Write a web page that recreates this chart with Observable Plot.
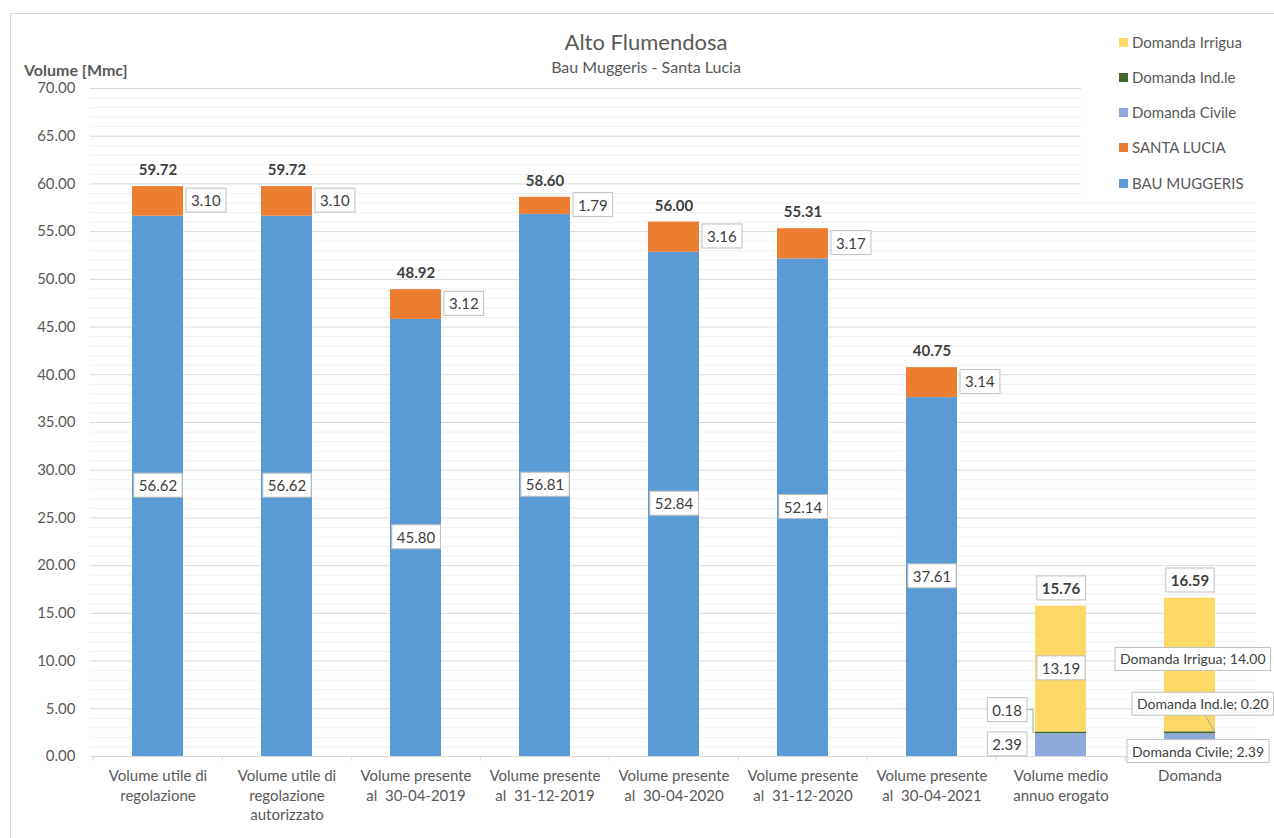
<!DOCTYPE html>
<html>
<head>
<meta charset="utf-8">
<script src="https://cdn.jsdelivr.net/npm/d3@7"></script>
<script src="https://cdn.jsdelivr.net/npm/@observablehq/plot@0.6"></script>
<style>
  body { margin: 0; background: #fff; font-family: Lato, sans-serif; }
  #wrap { position: relative; width: 1274px; height: 838px; overflow: hidden; background: #fff; }
  #wrap svg { position: absolute; left: 0; top: 0; }
  #wrap svg text { white-space: pre; }
  #frame { position: absolute; left: 10px; top: 13px; width: 1300px; height: 900px; border: 1px solid #d9d9d9; box-sizing: border-box; pointer-events: none; }
  .title { position: absolute; left: 0; width: 1292px; text-align: center; color: #595959; white-space: nowrap; }
  #ytitle { position: absolute; left: 24px; top: 62px; font-size: 16px; line-height: 16px; font-weight: bold; color: #595959; white-space: nowrap; }
  #legend { position: absolute; left: 1081px; top: 14px; width: 200px; height: 184px; background: #fff; }
  .li { position: absolute; left: 38px; font-size: 15px; line-height: 18px; color: #595959; white-space: nowrap; }
  .li span { display: inline-block; width: 9px; height: 9px; margin-right: 4px; vertical-align: 1px; }
</style>
</head>
<body>
<div id="wrap">
  <div id="plot"></div>
  <div class="title" style="top:30px;font-size:22px;line-height:24px;">Alto Flumendosa</div>
  <div class="title" style="top:58px;font-size:16px;line-height:18px;">Bau Muggeris - Santa Lucia</div>
  <div id="ytitle">Volume [Mmc]</div>
  <div id="legend"></div>
  <div id="frame"></div>
</div>
<script>
// ---- data ----
const categories = ["VUR", "VURA", "P2019A", "P2019D", "P2020A", "P2020D", "P2021A", "VMAE", "DOM"];
const categoryLabels = [
  "Volume utile di\nregolazione",
  "Volume utile di\nregolazione\nautorizzato",
  "Volume presente\nal  30-04-2019",
  "Volume presente\nal  31-12-2019",
  "Volume presente\nal  30-04-2020",
  "Volume presente\nal  31-12-2020",
  "Volume presente\nal  30-04-2021",
  "Volume medio\nannuo erogato",
  "Domanda"
];
const series = ["BAU MUGGERIS", "SANTA LUCIA", "Domanda Civile", "Domanda Ind.le", "Domanda Irrigua"];
const seriesColors = ["#5B9BD5", "#ED7D31", "#8EA9DB", "#43682B", "#FFD966"];
const legendOrder = ["Domanda Irrigua", "Domanda Ind.le", "Domanda Civile", "SANTA LUCIA", "BAU MUGGERIS"];

const bauMuggeris   = [56.62, 56.62, 45.80, 56.81, 52.84, 52.14, 37.61, null, null];
const santaLucia    = [3.10, 3.10, 3.12, 1.79, 3.16, 3.17, 3.14, null, null];
const domandaCivile = [null, null, null, null, null, null, null, 2.39, 2.39];
const domandaIndle  = [null, null, null, null, null, null, null, 0.18, 0.20];
const domandaIrrigua= [null, null, null, null, null, null, null, 13.19, 14.00];
const totals        = [59.72, 59.72, 48.92, 58.60, 56.00, 55.31, 40.75, 15.76, 16.59];

const yTicks = [0, 5, 10, 15, 20, 25, 30, 35, 40, 45, 50, 55, 60, 65, 70];

// ---- derived tables ----
const valuesBySeries = [bauMuggeris, santaLucia, domandaCivile, domandaIndle, domandaIrrigua];
const rows = [];
categories.forEach((c, i) => {
  let base = 0;
  series.forEach((s, k) => {
    const v = valuesBySeries[k][i];
    if (v == null) return;
    rows.push({category: c, series: s, value: v, y1: base, y2: base + v, mid: base + v / 2});
    base += v;
  });
});
const totalRows = categories.map((c, i) => ({category: c, total: totals[i], idx: i}));
const labelRows = categories.map((c, i) => ({category: c, label: categoryLabels[i]}));
const minorGrid = d3.range(1, 70).filter(d => d % 5 !== 0);
const fmt = d => d.toFixed(2);

const sel = (cat, s) => rows.filter(r => (cat == null || r.category === cat) && r.series === s);
const textBase = {x: "category", y: "mid", fill: "#404040", fontSize: 15};

const chart = Plot.plot({
  width: 1274,
  height: 838,
  marginTop: 88,
  marginBottom: 82,
  marginLeft: 90,
  marginRight: 18,
  style: {background: "transparent", fontFamily: "Lato, sans-serif", fontSize: "15px", color: "#595959"},
  x: {domain: categories, padding: 0, axis: null},
  y: {domain: [0, 70], axis: null},
  color: {domain: series, range: seriesColors},
  marks: [
    Plot.ruleY(minorGrid, {stroke: "#f0f0f0"}),
    Plot.ruleY(yTicks.filter(d => d > 0), {stroke: "#d9d9d9"}),
    Plot.barY(rows, {x: "category", y1: "y1", y2: "y2", fill: "series", insetLeft: 39, insetRight: 39}),
    Plot.ruleY([0], {stroke: "#d9d9d9"}),
    Plot.ruleX(categories, {x: d => d, dx: -64.8, y1: 0, y2: -0.5, stroke: "#d9d9d9"}),
    Plot.ruleX(categories.slice(-1), {x: d => d, dx: 64.8, y1: 0, y2: -0.5, stroke: "#d9d9d9"}),
    // y tick labels
    Plot.text(yTicks, {y: d => d, text: fmt, frameAnchor: "left", textAnchor: "end", dx: -15, fill: "#595959", fontSize: 15}),
    // x category labels
    Plot.text(labelRows, {x: "category", text: "label", frameAnchor: "bottom", lineAnchor: "top", dy: 11, lineHeight: 1.29, fill: "#595959", fontSize: 15}),
    // BAU MUGGERIS values
    Plot.text(sel(null, "BAU MUGGERIS"), {...textBase, text: d => fmt(d.value), ariaDescription: "boxed"}),
    // SANTA LUCIA values (right of bar)
    Plot.text(sel(null, "SANTA LUCIA"), {...textBase, text: d => fmt(d.value), textAnchor: "start", dx: 33, ariaDescription: "boxed"}),
    // Volume medio annuo erogato
    Plot.text(sel("VMAE", "Domanda Irrigua"), {...textBase, text: d => fmt(d.value), ariaDescription: "boxed"}),
    Plot.text(sel("VMAE", "Domanda Ind.le"), {...textBase, text: d => fmt(d.value), textAnchor: "end", dx: -39, dy: -22, ariaDescription: "boxed-ind"}),
    Plot.text(sel("VMAE", "Domanda Civile"), {...textBase, text: d => fmt(d.value), textAnchor: "end", dx: -39, dy: 0, ariaDescription: "boxed"}),
    // Domanda
    Plot.text(sel("DOM", "Domanda Irrigua"), {...textBase, fontSize: 14, text: d => `${d.series}; ${fmt(d.value)}`, textAnchor: "start", dx: -70, dy: -5, ariaDescription: "boxed"}),
    Plot.text(sel("DOM", "Domanda Ind.le"), {...textBase, fontSize: 14, text: d => `${d.series}; ${fmt(d.value)}`, textAnchor: "start", dx: -53, dy: -28, ariaDescription: "boxed-dom"}),
    Plot.text(sel("DOM", "Domanda Civile"), {...textBase, fontSize: 14, text: d => `${d.series}; ${fmt(d.value)}`, textAnchor: "start", dx: -58, dy: 7, ariaDescription: "boxed"}),
    // totals
    Plot.text(totalRows.filter(d => d.idx < 7), {x: "category", y: "total", text: d => fmt(d.total), dy: -16, fontWeight: "bold", fill: "#404040", fontSize: 15}),
    Plot.text(totalRows.filter(d => d.idx >= 7), {x: "category", y: "total", text: d => fmt(d.total), dy: -17, fontWeight: "bold", fill: "#404040", fontSize: 15, ariaDescription: "boxed"})
  ]
});

document.getElementById("plot").appendChild(chart);

// legend
const legend = document.getElementById("legend");
const legendY = [42, 77, 112, 147, 183];
legendOrder.forEach((s, i) => {
  const div = document.createElement("div");
  div.className = "li";
  div.style.top = (legendY[i] - 14 - 9) + "px";
  div.innerHTML = `<span style="background:${seriesColors[series.indexOf(s)]}"></span>${s}`;
  legend.appendChild(div);
});

// label boxes drawn around rendered text
const svg = d3.select(chart);
svg.selectAll('g[aria-description^="boxed"] text').each(function() {
  const b = this.getBBox();
  d3.select(this.parentNode).insert("rect", () => this)
    .attr("x", b.x - 5).attr("y", b.y - 3)
    .attr("width", b.width + 10).attr("height", b.height + 6)
    .attr("transform", this.getAttribute("transform"))
    .attr("fill", "white").attr("stroke", "#bfbfbf");
});

// leader lines from the scales
const xs = chart.scale("x"), ys = chart.scale("y");
const svgBox = chart.getBoundingClientRect();
function rectOf(desc) {
  const r = chart.querySelector(`g[aria-description="${desc}"] rect`).getBoundingClientRect();
  return {left: r.left - svgBox.left, right: r.right - svgBox.left, top: r.top - svgBox.top, bottom: r.bottom - svgBox.top};
}
const barInset = 39;
{
  const r = sel("VMAE", "Domanda Ind.le")[0];
  const barLeft = xs.apply("VMAE") + barInset;
  const y = ys.apply(r.mid);
  const b = rectOf("boxed-ind");
  const ym = (b.top + b.bottom) / 2;
  svg.append("path").attr("d", `M${b.right},${ym}H${barLeft - 2}V${y}H${barLeft}`)
    .attr("fill", "none").attr("stroke", "#a6a6a6");
}
{
  const r = sel("DOM", "Domanda Ind.le")[0];
  const barRight = xs.apply("DOM") + xs.bandwidth - barInset;
  const y = ys.apply(r.mid);
  const b = rectOf("boxed-dom");
  svg.append("path").attr("d", `M${barRight - 10},${b.bottom}L${barRight},${y}`)
    .attr("fill", "none").attr("stroke", "#a6a6a6");
}
</script>
</body>
</html>
